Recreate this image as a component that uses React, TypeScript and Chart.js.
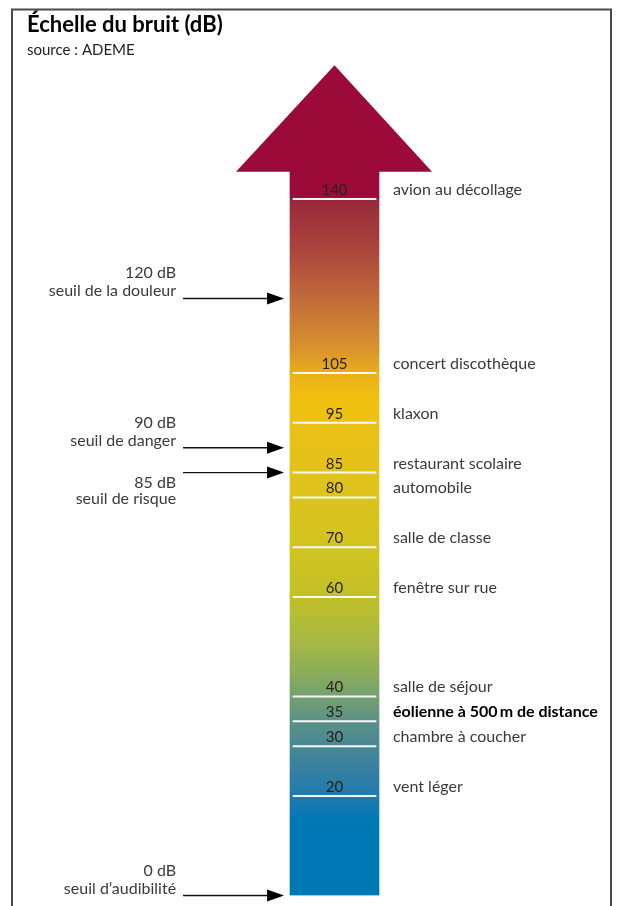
import { useEffect, useRef } from "react";
import { Chart, registerables } from "chart.js";

Chart.register(...registerables);

// ---------- data ----------
const TITLE = "Échelle du bruit (dB)";
const SUBTITLE = "source : ADEME";

const LEVELS = [140, 105, 95, 85, 80, 70, 60, 40, 35, 30, 20];
const LEVEL_LABELS = [
  "avion au décollage",
  "concert discothèque",
  "klaxon",
  "restaurant scolaire",
  "automobile",
  "salle de classe",
  "fenêtre sur rue",
  "salle de séjour",
  "éolienne à 500\u2009m de distance",
  "chambre à coucher",
  "vent léger",
];
const HIGHLIGHT_LEVEL = 35;

const THRESHOLDS = [120, 90, 85, 0];
const THRESHOLD_VALUES = ["120 dB", "90 dB", "85 dB", "0 dB"];
const THRESHOLD_NAMES = [
  "seuil de la douleur",
  "seuil de danger",
  "seuil de risque",
  "seuil d\u2019audibilité",
];
const THRESHOLD_TEXT_BELOW = [false, false, true, false];

const SHAFT_TOP_DB = 145.5;
const ARROW_TIP_DB = 166.9;

const GRADIENT_DB = [0, 15, 20, 25, 30, 35, 40, 45, 50, 60, 70, 80, 90, 100, 104, 110, 120, 130, 139.5, 140.5, 145.5];
const GRADIENT_COLORS = [
  "#0078b6", "#0078b6", "#1f7aae", "#357fa2", "#488896", "#5c9186", "#74a070",
  "#8cad58", "#a3b748", "#c2c028", "#d2c420", "#dcc31c", "#e6c218", "#f0c010",
  "#ecb418", "#d8922c", "#c26a3a", "#aa443c", "#9a2a3c", "#9b0a38", "#9b0a38",
];

// ---------- layout constants (x in shaft-width units, shaft spans 0..1) ----------
const FONT = "Lato, 'Open Sans', sans-serif";
const HEAD_LEFT = -0.607;
const HEAD_RIGHT = 1.596;
const TICK_LEFT = 0.03;
const TICK_RIGHT = 0.97;
const LABEL_X = 1.157;
const ARROW_START = -1.202;
const ARROW_END = -0.067;
const THRESH_TEXT_RIGHT = -1.28;

const noisePlugin = {
  id: "noiseScale",
  afterDatasetsDraw(chart: any) {
    const { ctx } = chart;
    const x = chart.scales.x;
    const y = chart.scales.y;
    const px = (v: number) => x.getPixelForValue(v);
    const py = (v: number) => y.getPixelForValue(v);

    ctx.save();
    // arrow head
    ctx.fillStyle = GRADIENT_COLORS[GRADIENT_COLORS.length - 1];
    ctx.beginPath();
    ctx.moveTo(px(HEAD_LEFT), py(SHAFT_TOP_DB));
    ctx.lineTo(px(0.5), py(ARROW_TIP_DB));
    ctx.lineTo(px(HEAD_RIGHT), py(SHAFT_TOP_DB));
    ctx.closePath();
    ctx.fill();
    ctx.fillRect(px(0), py(SHAFT_TOP_DB) - 1, px(1) - px(0), 2);

    // tick lines, numbers and labels
    LEVELS.forEach((lv, i) => {
      const yy = py(lv);
      ctx.strokeStyle = "rgba(255,255,255,0.95)";
      ctx.lineWidth = 2;
      ctx.beginPath();
      ctx.moveTo(px(TICK_LEFT), yy);
      ctx.lineTo(px(TICK_RIGHT), yy);
      ctx.stroke();

      ctx.textBaseline = "alphabetic";
      ctx.fillStyle = "#2a2418";
      ctx.font = `15px ${FONT}`;
      ctx.textAlign = "center";
      ctx.fillText(String(lv), px(0.5), yy - 4);

      ctx.textAlign = "left";
      ctx.fillStyle = lv === HIGHLIGHT_LEVEL ? "#000" : "#3a3a3a";
      ctx.font = `${lv === HIGHLIGHT_LEVEL ? "bold " : ""}16px ${FONT}`;
      ctx.fillText(LEVEL_LABELS[i], px(LABEL_X), yy - 4);
    });

    // threshold arrows
    THRESHOLDS.forEach((th, i) => {
      const yy = py(th);
      const x0 = px(ARROW_START);
      const x1 = px(ARROW_END);
      ctx.strokeStyle = "#111";
      ctx.lineWidth = 1.3;
      ctx.beginPath();
      ctx.moveTo(x0, yy);
      ctx.lineTo(x1 - 14, yy);
      ctx.stroke();
      ctx.fillStyle = "#000";
      ctx.beginPath();
      ctx.moveTo(x1 - 17, yy - 6);
      ctx.lineTo(x1, yy);
      ctx.lineTo(x1 - 17, yy + 6);
      ctx.closePath();
      ctx.fill();

      ctx.font = `16px ${FONT}`;
      ctx.fillStyle = "#3a3a3a";
      ctx.textAlign = "right";
      ctx.textBaseline = "alphabetic";
      const tx = px(THRESH_TEXT_RIGHT);
      if (THRESHOLD_TEXT_BELOW[i]) {
        ctx.fillText(THRESHOLD_VALUES[i], tx, yy + 15);
        ctx.fillText(THRESHOLD_NAMES[i], tx, yy + 31);
      } else {
        ctx.fillText(THRESHOLD_VALUES[i], tx, yy - 20);
        ctx.fillText(THRESHOLD_NAMES[i], tx, yy - 2);
      }
    });
    ctx.restore();
  },
  afterDraw(chart: any) {
    const { ctx } = chart;
    ctx.save();
    ctx.strokeStyle = "#4a4a4a";
    ctx.lineWidth = 2;
    ctx.strokeRect(12, 9.5, 599, chart.height + 20);
    ctx.restore();
  },
};

export default function App() {
  const ref = useRef<HTMLCanvasElement | null>(null);
  useEffect(() => {
    document.body.style.margin = "0";
    const canvas = ref.current!;
    const chart = new Chart(canvas, {
      type: "bar",
      data: {
        datasets: [
          {
            data: [{ x: 0.5, y: [0, SHAFT_TOP_DB] }] as any,
            barThickness: 89,
            borderWidth: 0,
            borderSkipped: false,
            backgroundColor: (c: any) => {
              const ch = c.chart;
              if (!ch.chartArea) return GRADIENT_COLORS[0];
              const ys = ch.scales.y;
              const g = ch.ctx.createLinearGradient(0, ys.getPixelForValue(0), 0, ys.getPixelForValue(SHAFT_TOP_DB));
              GRADIENT_DB.forEach((d, i) => g.addColorStop(d / SHAFT_TOP_DB, GRADIENT_COLORS[i]));
              return g;
            },
          },
        ],
      },
      options: {
        responsive: false,
        animation: false,
        events: [],
        layout: { padding: { left: 27, right: 0, top: 0, bottom: 10.5 } },
        scales: {
          x: { type: "linear", min: -2.955, max: 3.674, display: false, offset: false },
          y: { type: "linear", min: 0, max: 168.06, display: false },
        },
        plugins: {
          legend: { display: false },
          tooltip: { enabled: false },
          title: {
            display: true,
            text: TITLE,
            align: "start",
            color: "#000",
            font: { family: FONT, size: 22, weight: "bold", lineHeight: 1.2 },
            padding: { top: 12, bottom: 0 },
          },
          subtitle: {
            display: true,
            text: SUBTITLE,
            align: "start",
            color: "#222",
            font: { family: FONT, size: 15, lineHeight: 1.2 },
            padding: { top: 3, bottom: 0 },
          },
        },
      },
      plugins: [noisePlugin],
    });
    return () => chart.destroy();
  }, []);
  return (
    <div style={{ width: 617, height: 906, background: "#fff" }}>
      <canvas ref={ref} width={617} height={906} style={{ display: "block" }} />
    </div>
  );
}
